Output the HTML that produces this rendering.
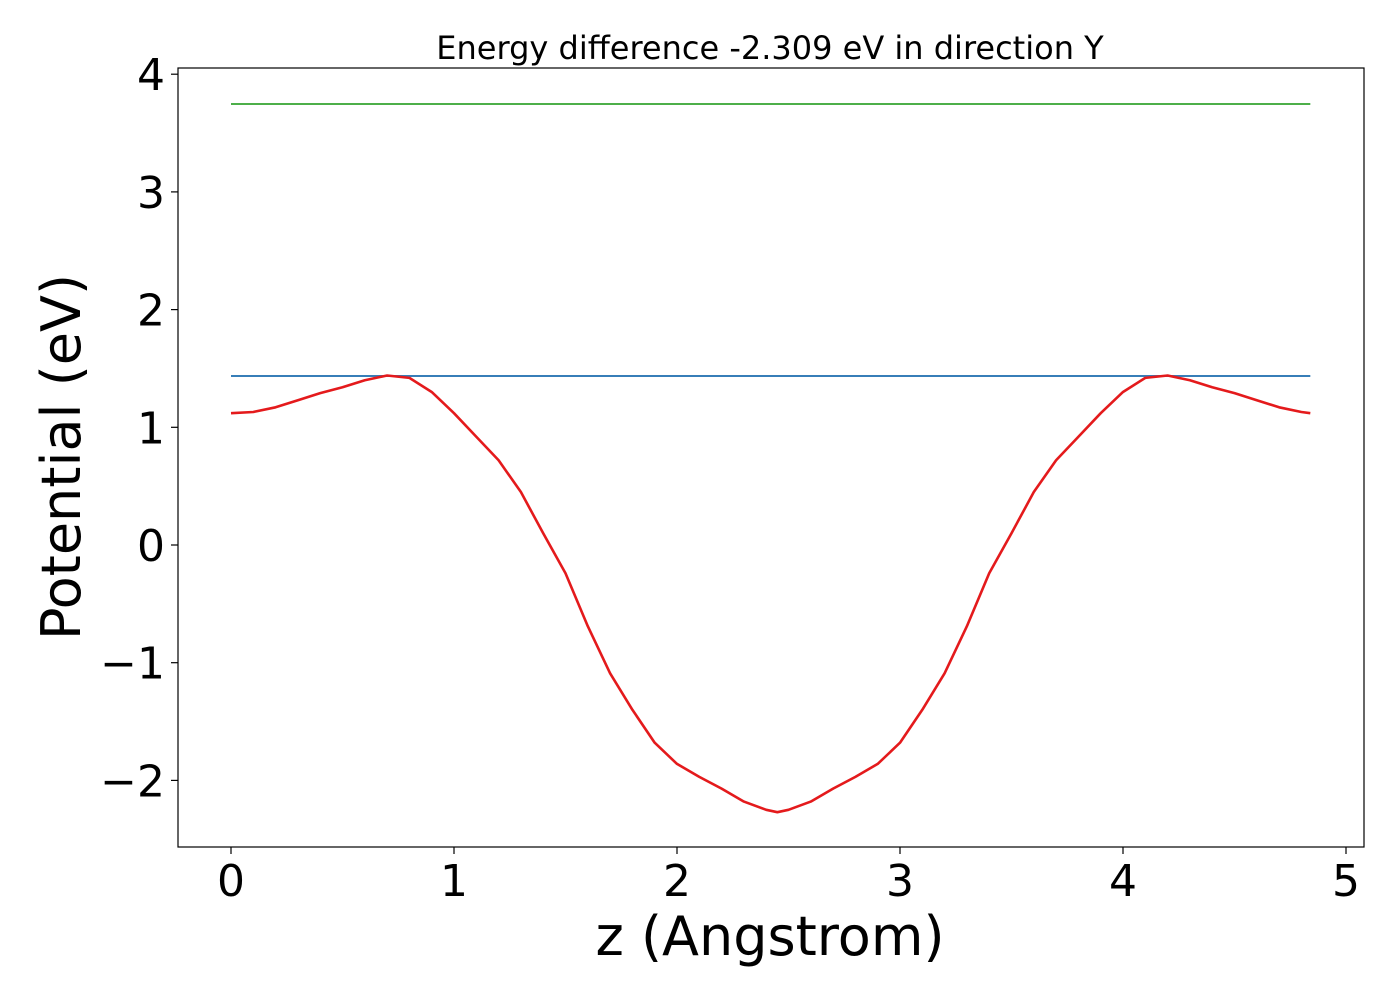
<!DOCTYPE html>
<html><head><meta charset="utf-8"><style>
html,body{margin:0;padding:0;background:#fff;}
svg{display:block;font-family:"DejaVu Sans","Liberation Sans",sans-serif;}
</style></head><body>
<svg id="chart" width="1400" height="1000" viewBox="0 0 1400 1000" xmlns="http://www.w3.org/2000/svg">
<text x="770" y="59" font-size="32" text-anchor="middle">Energy difference -2.309 eV in direction Y</text>
<g id="grid"></g>
<g id="series"></g>
<rect x="178" y="68" width="1186" height="779" fill="none" stroke="#000" stroke-width="1.2"/>
<g id="ticks"></g>
<text x="770" y="955" font-size="54" text-anchor="middle">z (Angstrom)</text>
<text transform="translate(80,457) rotate(-90)" font-size="54" text-anchor="middle">Potential (eV)</text>
</svg>
<script>
const zValues=[0,0.1,0.2,0.3,0.4,0.5,0.6,0.7,0.8,0.9,1.0,1.1,1.2,1.3,1.4,1.5,1.6,1.7,1.8,1.9,2.0,2.1,2.2,2.3,2.4,2.45,2.5,2.6,2.7,2.8,2.9,3.0,3.1,3.2,3.3,3.4,3.5,3.6,3.7,3.8,3.9,4.0,4.1,4.2,4.3,4.4,4.5,4.6,4.7,4.8,4.84];
const potential=[1.12,1.13,1.17,1.23,1.29,1.34,1.40,1.44,1.42,1.30,1.12,0.92,0.72,0.45,0.10,-0.24,-0.69,-1.09,-1.40,-1.68,-1.86,-1.97,-2.07,-2.18,-2.25,-2.27,-2.25,-2.18,-2.07,-1.97,-1.86,-1.68,-1.40,-1.09,-0.69,-0.24,0.10,0.45,0.72,0.92,1.12,1.30,1.42,1.44,1.40,1.34,1.29,1.23,1.17,1.13,1.12];
const blueLevel=1.436;
const greenLevel=3.747;
const xTicks=[0,1,2,3,4,5];
const yTicks=[-2,-1,0,1,2,3,4];
const NS="http://www.w3.org/2000/svg";
function sx(v){return 231+v*223;}
function sy(v){return 545-v*117.7;}
const series=document.getElementById('series');
const ticks=document.getElementById('ticks');
function hline(val,color,name){
  const l=document.createElementNS(NS,'line');
  l.setAttribute('x1',sx(zValues[0]));l.setAttribute('x2',sx(zValues[zValues.length-1]));
  l.setAttribute('y1',sy(val));l.setAttribute('y2',sy(val));
  l.setAttribute('stroke',color);l.setAttribute('stroke-width','2');
  
  
  series.appendChild(l);
}
hline(greenLevel,'#4daf4a','green-level-line');
hline(blueLevel,'#377eb8','blue-level-line');
const p=document.createElementNS(NS,'polyline');
p.setAttribute('points',zValues.map((z,i)=>sx(z)+','+sy(potential[i])).join(' '));
p.setAttribute('fill','none');p.setAttribute('stroke','#e41a1c');p.setAttribute('stroke-width','2.6');
p.setAttribute('stroke-linejoin','round');


series.appendChild(p);
xTicks.forEach(t=>{
  const l=document.createElementNS(NS,'line');
  l.setAttribute('x1',sx(t));l.setAttribute('x2',sx(t));l.setAttribute('y1',847);l.setAttribute('y2',854);
  l.setAttribute('stroke','#000');l.setAttribute('stroke-width','1.2');
  
  
  ticks.appendChild(l);
  const tx=document.createElementNS(NS,'text');
  tx.setAttribute('x',sx(t));tx.setAttribute('y',896);tx.setAttribute('font-size','44');tx.setAttribute('text-anchor','middle');
  tx.textContent=String(t);
  
  
  ticks.appendChild(tx);
});
yTicks.forEach(t=>{
  const l=document.createElementNS(NS,'line');
  l.setAttribute('x1',171);l.setAttribute('x2',178);l.setAttribute('y1',sy(t));l.setAttribute('y2',sy(t));
  l.setAttribute('stroke','#000');l.setAttribute('stroke-width','1.2');
  
  
  ticks.appendChild(l);
  const tx=document.createElementNS(NS,'text');
  tx.setAttribute('x',165);tx.setAttribute('y',sy(t)+16);tx.setAttribute('font-size','44');tx.setAttribute('text-anchor','end');
  tx.textContent=t<0?'\u2212'+Math.abs(t):String(t);
  
  
  ticks.appendChild(tx);
});
</script>
</body></html>
